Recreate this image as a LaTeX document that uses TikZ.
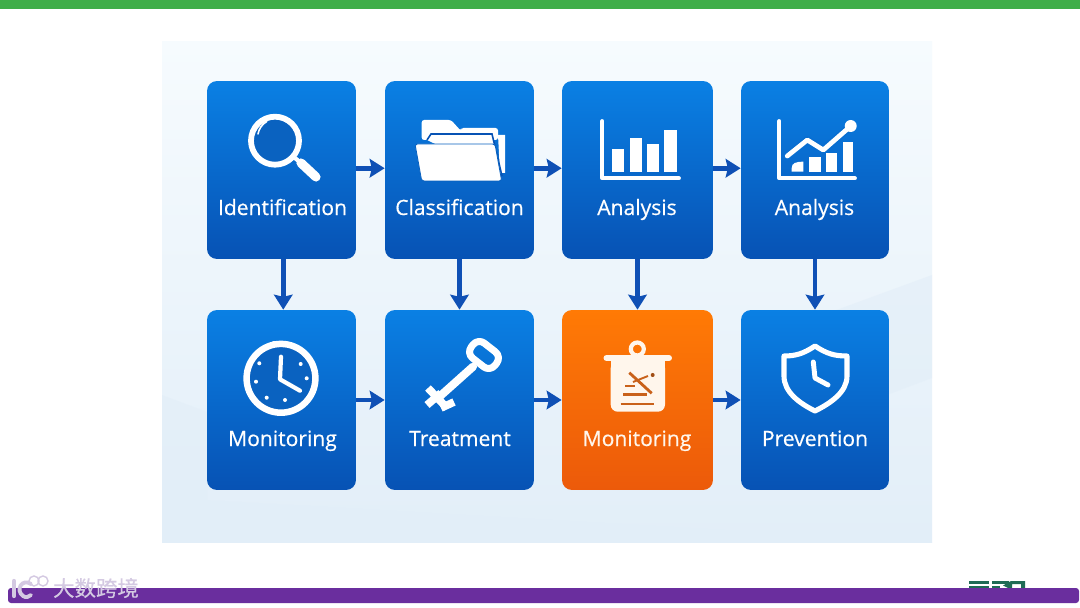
\documentclass[tikz,border=0pt]{standalone}
\usepackage{fontspec}
\setmainfont{Open Sans}
\newfontfamily\cjk[FakeBold=0.4]{Noto Sans CJK SC}
\newfontfamily\stepfont[FakeBold=0.45]{Open Sans}
\usetikzlibrary{arrows.meta}
\definecolor{barGreen}{HTML}{3FAE49}
\definecolor{barPurple}{HTML}{6A2E9E}
\definecolor{logoGreen}{HTML}{1F6B55}
\definecolor{markLilac}{HTML}{D4C9E2}
\definecolor{panelEdge}{HTML}{E2EEF8}
\definecolor{panelMid}{HTML}{F6FBFE}
\definecolor{blueTop}{HTML}{0A80E4}
\definecolor{blueLow}{HTML}{0752B4}
\definecolor{lensBlue}{HTML}{0A62C0}
\definecolor{orangeTop}{HTML}{FF7A05}
\definecolor{orangeLow}{HTML}{EC5A0A}
\definecolor{arrowBlue}{HTML}{0F50B5}
\definecolor{cream}{HTML}{FFF6EC}
\definecolor{markBrown}{HTML}{C9611A}
\tikzset{
  stepBlue/.style={rounded corners=0.2cm,minimum width=2.98cm,minimum height=3.56cm,
    inner sep=0pt,top color=blueTop,bottom color=blueLow},
  stepOrange/.style={stepBlue,top color=orangeTop,bottom color=orangeLow},
  stepLabel/.style={text=white,font=\stepfont\fontsize{12}{14}\selectfont,inner sep=0pt,anchor=base},
  orangeLabel/.style={stepLabel,text=cream},
  flow/.style={draw=arrowBlue,line width=2.6pt,-{Stealth[length=8.5pt,width=10.5pt,inset=1.2pt]}},
  icon/.style={draw=white,line width=2.8pt,line cap=round,line join=round}
}
\begin{document}
\begin{tikzpicture}
    [x=0.02cm,y=-0.02cm]
    \useasboundingbox (0,0) rectangle (1080,608);
    %page
    \fill[white] (0,0) rectangle (1080,608);
    \fill[barGreen] (0,0) rectangle (1080,9);
    %panel
    \shade[top color=panelMid,bottom color=panelEdge] (162,42) rectangle (932,542);
    \fill[panelEdge,opacity=0.6] (162,395) -- (207,412) -- (207,500) -- (932,542) -- (162,542) -- cycle;
    \fill[panelEdge,opacity=0.6] (932,275) -- (932,378) -- (741,450) -- (741,345) -- cycle;
    %logo under the bar
    \fill[logoGreen] (969,581) rectangle (989,584);
    \fill[logoGreen] (969,585.5) rectangle (989,588);
    \fill[logoGreen] (992,581) rectangle (1009,584);
    \fill[logoGreen] (992,585.5) rectangle (1000,588);
    \fill[logoGreen] (1003,585.5) -- (1011,581) -- (1025,581) -- (1025,588) -- (1021,588) -- (1021,584) -- (1012,584) -- (1012,588) -- (1008,588) -- cycle;
    %bottom bar and mark
    \fill[barPurple,rounded corners=0.06cm] (8,588) rectangle (1079,603);
    \draw[markLilac,line width=2.4pt,line cap=round] (14,581) -- (14,596);
    \draw[markLilac,line width=2.2pt,line cap=round] (31,584) .. controls (22,578) and (15,590) .. (23,596) .. controls (26,598) and (29,597) .. (31,595);
    \draw[markLilac,line width=0.8pt] (34,581) circle (5);
    \draw[markLilac,line width=0.8pt] (43,581) circle (5);
    \node[text=markLilac,inner sep=0pt,font=\cjk\fontsize{12.2}{14}\selectfont] (markname) at (96,588) {大数跨境};
    %steps top row
    \node[stepBlue] (ident) at (281.5,170) {};
    \node[stepBlue] (classif) at (459.5,170) {};
    \node[stepBlue,minimum width=3.02cm] (bars) at (637.5,170) {};
    \node[stepBlue,minimum width=2.96cm] (trend) at (815,170) {};
    %steps bottom row
    \node[stepBlue,minimum height=3.6cm] (clock) at (281.5,400) {};
    \node[stepBlue,minimum height=3.6cm] (treat) at (459.5,400) {};
    \node[stepOrange,minimum width=3.02cm,minimum height=3.6cm] (pot) at (637.5,400) {};
    \node[stepBlue,minimum width=2.96cm,minimum height=3.6cm] (shield) at (815,400) {};
    %labels
    \node[stepLabel] (identlabel) at (282.5,215) {Identification};
    \node[stepLabel] (classiflabel) at (459.5,215) {Classification};
    \node[stepLabel] (barslabel) at (637,215) {Analysis};
    \node[stepLabel] (trendlabel) at (814.5,215) {Analysis};
    \node[stepLabel] (clocklabel) at (282.5,446) {Monitoring};
    \node[stepLabel] (treatlabel) at (460,446) {Treatment};
    \node[orangeLabel] (potlabel) at (637,446) {Monitoring};
    \node[stepLabel] (shieldlabel) at (815,446) {Prevention};
    %arrows across
    \draw[flow] ([yshift=1pt]ident.east) -- ([yshift=1pt]classif.west);
    \draw[flow] ([yshift=1pt]classif.east) -- ([yshift=1pt]bars.west);
    \draw[flow] ([yshift=1pt]bars.east) -- ([yshift=1pt]trend.west);
    \draw[flow] (clock.east) -- (treat.west);
    \draw[flow] (treat.east) -- (pot.west);
    \draw[flow] (pot.east) -- (shield.west);
    %arrows down
    \draw[flow] ([xshift=1pt]ident.south) -- ([xshift=1pt]clock.north);
    \draw[flow] (classif.south) -- (treat.north);
    \draw[flow] (bars.south) -- (pot.north);
    \draw[flow] (trend.south) -- (shield.north);
    %magnifier
    \draw[icon,line width=3.3pt,fill=lensBlue] (275,140.7) circle (24);
    \draw[white,line width=0.9pt,line cap=round] (258,134) arc (-170:-120:18);
    \draw[white,line width=2.4pt] (295,158) -- (301,163);
    \draw[white,line width=5.2pt,line cap=round] (301,163) -- (316,177);
    %folder
    \fill[white,rounded corners=0.05cm] (421.7,140) -- (421.7,120) -- (451,120) -- (461,131) -- (461,128) -- (498,128) -- (498,140) -- cycle;
    \fill[white] (498,135) -- (505,135) -- (505,173) -- (500,173) -- cycle;
    \draw[draw=blueLow,fill=white,line width=0.9pt] (427,140) -- (431,134) -- (492,134) -- (502,176);
    \fill[white,rounded corners=0.05cm,draw=lensBlue,line width=0.5pt] (415,144) -- (495,144) -- (501.7,181) -- (421.7,181) -- cycle;
    %bar chart
    \draw[icon,line width=2.2pt] (602.3,121) -- (602.3,178.3) -- (679,178.3);
    \fill[white] (612.3,149.3) rectangle (624.3,171.7);
    \fill[white] (630,138.3) rectangle (641.7,171.7);
    \fill[white] (647.3,144) rectangle (659.3,171.7);
    \fill[white] (664.3,130) rectangle (676.7,171.7);
    %trend chart
    \draw[icon,line width=2.2pt] (779.3,121) -- (779.3,178.3) -- (855,178.3);
    \fill[white] (791.7,171.7) -- (791.7,168) .. controls (791.7,163) and (796,161.7) .. (803.3,161.7) -- (803.3,171.7) -- cycle;
    \fill[white] (809.3,157.3) rectangle (820.7,171.7);
    \fill[white] (826,152.7) rectangle (837.3,171.7);
    \fill[white] (842.7,141.7) rectangle (852.7,171.7);
    \draw[blueTop!60!blueLow,line width=4.4pt,line cap=round,line join=round] (787.3,156) -- (807.3,140) -- (823.3,150) -- (850,126.7);
    \draw[icon,line width=2.7pt] (787.3,156) -- (807.3,140) -- (823.3,150) -- (850,126.7);
    \fill[white] (850.7,126) circle (6);
    %clock
    \fill[white] (274,343.5) circle (2.5);
    \draw[icon,line width=3.7pt,fill=lensBlue] (281,378.3) circle (34.4);
    \draw[icon,line width=2.4pt] (281,356.7) -- (280,379.3) -- (300,390.7);
    \fill[white] (256,381.7) circle (2);
    \fill[white] (266.7,397.7) circle (2);
    \fill[white] (285,400) circle (2);
    \fill[white] (306.7,378.3) circle (2);
    \fill[white] (300.7,364) circle (2);
    \fill[white] (259.3,363.3) circle (2);
    %key
    \draw[white,line width=4.6pt,line cap=round] (473,366.7) -- (438,398);
    \draw[icon,line width=4pt,rotate around={-38:(484,355)},rounded corners=0.16cm] (469,345.5) rectangle (499,364.5);
    \draw[white,line width=4.4pt] (428,388) -- (447,408);
    \draw[white,line width=4.4pt] (427,405) -- (441,393);
    \draw[white,line width=4.4pt] (441,408) -- (454,402);
    %pot
    \draw[cream,line width=2.4pt] (637.3,349) circle (6.5);
    \draw[cream,line width=3.4pt,line cap=round] (606.5,358) -- (669,358);
    \fill[cream,rounded corners=0.14cm] (610.7,361) -- (665,361) -- (665,411.7) -- (610.7,411.7) -- cycle;
    \fill[cream] (610.7,361) rectangle (665,370);
    \draw[markBrown,line width=1.6pt] (629.3,372.7) -- (651.7,393.3);
    \draw[markBrown,line width=1.1pt] (633,382) -- (648,376);
    \draw[markBrown,line width=1.3pt] (625,385.7) -- (635,385.7);
    \draw[markBrown,line width=1.5pt] (623.3,394.3) -- (646.7,394.3);
    \draw[markBrown,line width=1.5pt] (620.7,404) -- (654,404);
    \fill[markBrown!80!black] (652.7,375) circle (2);
    %shield
    \draw[icon,line width=2.9pt,line join=round] (815,346) .. controls (803,354) and (795,356) .. (784,356) -- (784,376) .. controls (784,392) and (799,403) .. (815,411) .. controls (831,403) and (847,392) .. (847,376) -- (847,356) .. controls (835,356) and (827,354) .. (815,346) -- cycle;
    \draw[icon] (813.3,362) -- (815,378) -- (828,385);
\end{tikzpicture}
\end{document}
